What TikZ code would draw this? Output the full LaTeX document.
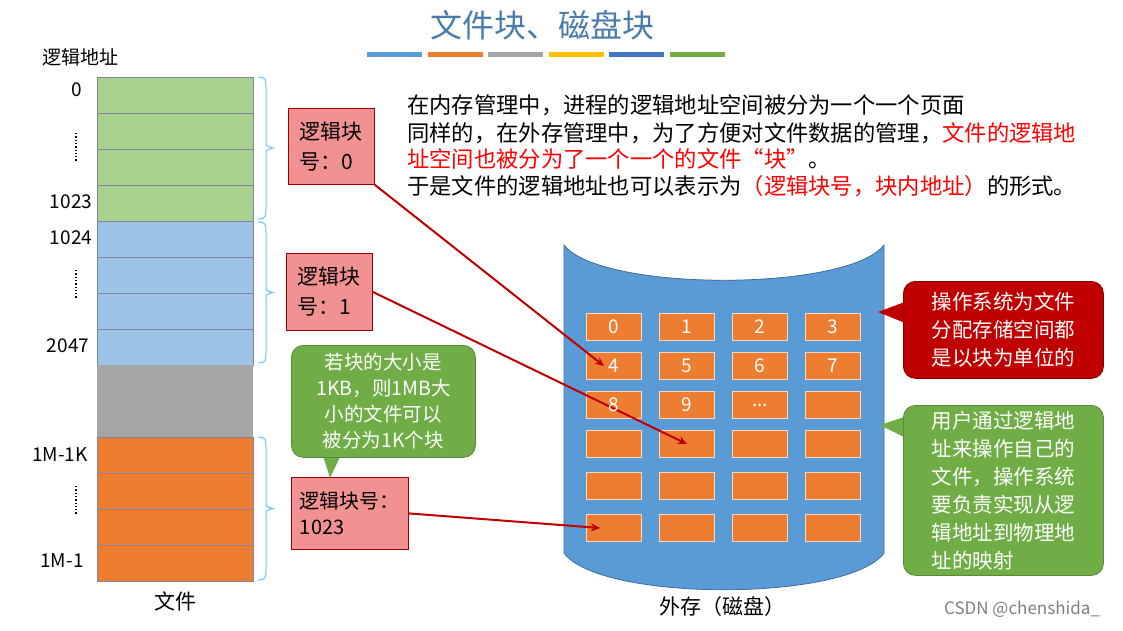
\documentclass[tikz,border=0pt]{standalone}
\usepackage{fontspec}
\usetikzlibrary{arrows.meta}
\setmainfont{Noto Sans CJK SC}
\newcommand{\mydots}{...}
\begin{document}
\begin{tikzpicture}[x=1pt,y=-1pt,
  cell/.style={draw=white!55!blue!30!gray,line width=1pt},
  lbl/.style={font=\fontsize{19}{22}\selectfont},
  lb/.style={draw=red!60!black,fill=red!40!white!95!black,line width=0.8pt,align=left,font=\fontsize{21}{30}\selectfont,inner sep=6pt},
  blk/.style={draw=white!70!og,fill=og,line width=0.8pt,minimum width=55pt,minimum height=27pt,inner sep=0},
  brace/.style={draw=blue!40!cyan!60!white,line width=1pt},
  arr/.style={draw=red!75!black,line width=2pt,-{Stealth[length=9pt,width=8pt]}},
  call/.style={rounded corners=12pt,line width=0.8pt,text=white,font=\fontsize{20.5}{28}\selectfont,align=left}]
\useasboundingbox (0,0) rectangle (1123,630);
\definecolor{gr}{HTML}{A9D18E}\definecolor{bl}{HTML}{9DC3E6}\definecolor{og}{HTML}{ED7D31}
\definecolor{cg}{HTML}{70AD47}\definecolor{cr}{HTML}{C00000}\definecolor{cb}{HTML}{5B9BD5}
% title
\node[font=\fontsize{32}{36}\selectfont,text=cb!80!black] (title) at (542,25) {文件块、磁盘块};
\foreach \c [count=\i] in {5B9BD5,ED7D31,A5A5A5,FFC000,4472C4,70AD47}{
  \definecolor{tmp}{HTML}{\c}
  \fill[tmp] ({367+(\i-1)*60.5},52) rectangle ({422+(\i-1)*60.5},57);}
\node[lbl] (la) at (80,57) {逻辑地址};
% column
\foreach \i in {0,...,3}{\path[cell,fill=gr] (97,{77+36*\i}) rectangle (253,{113+36*\i});}
\foreach \i in {0,...,3}{\path[cell,fill=bl] (97,{221+36*\i}) rectangle (253,{257+36*\i});}
\fill[gray!70] (97,365) rectangle (253,437);
\foreach \i in {0,...,3}{\path[cell,fill=og] (97,{437+36*\i}) rectangle (253,{473+36*\i});}
\node[lbl] (n0) at (77,90) {0};
\node[lbl] (n1) at (71,202) {1023};
\node[lbl] (n2) at (71,238) {1024};
\node[lbl] (n3) at (68,346) {2047};
\node[lbl] (n4) at (60,455) {1M-1K};
\node[lbl] (n5) at (62,561) {1M-1};
\foreach \y in {133,270,486}{\draw[dotted,line width=1.3pt] (76,\y) -- (76,{\y+28});}
\node[font=\fontsize{21}{24}\selectfont] (wj) at (175,601) {文件};
% braces
\foreach \a/\b in {77/219,222/363,437/580}{
 \draw[brace] (258,\a) .. controls (266,\a) and (266,\a+3) .. (266,{\a+10}) -- (266,{(\a+\b)/2-6}) .. controls (266,{(\a+\b)/2-2}) .. (273,{(\a+\b)/2}) .. controls (266,{(\a+\b)/2+2}) .. (266,{(\a+\b)/2+6}) -- (266,{\b-10}) .. controls (266,\b-3) and (266,\b) .. (258,\b);}
% boxes
\node[lb,minimum width=86pt,minimum height=76pt,anchor=north west] (b0) at (288,108) {逻辑块\\号：0};
\node[lb,minimum width=86pt,minimum height=77pt,anchor=north west] (b1) at (286,253) {逻辑块\\号：1};
\node[lb,minimum width=117pt,minimum height=72pt,anchor=north west,font=\fontsize{20}{26}\selectfont] (b2) at (291,477) {逻辑块号：\\1023};
% green callout 1
\fill[cg] (318,440) -- (330,478) -- (348,440) -- cycle;
\node[call,fill=cg,draw=cg!80!black,minimum width=184pt,minimum height=112pt,anchor=north west,align=center,font=\fontsize{19.5}{26}\selectfont] (c1) at (291,345) {若块的大小是\\1KB，则1MB大\\小的文件可以\\被分为1K个块};
% paragraph
\begin{scope}[every node/.style={anchor=west,font=\fontsize{22.3}{26}\selectfont,inner sep=0}]
\node (p1) at (407,105) {在内存管理中，进程的逻辑地址空间被分为一个一个页面};
\node (p2) at (407,133) {同样的，在外存管理中，为了方便对文件数据的管理，\textcolor{red}{文件的逻辑地}};
\node (p3) at (407,159) {\textcolor{red}{址空间也被分为了一个一个的文件“块”}。};
\node (p4) at (407,186) {于是文件的逻辑地址也可以表示为\textcolor{red}{（逻辑块号，块内地址）}的形式。};
\end{scope}
% cylinder
\draw[fill=cb,draw=cb!70!black,line width=0.8pt] (564,245) .. controls (600,292) and (848,292) .. (884,245) -- (884,553) .. controls (848,602) and (600,602) .. (564,553) -- cycle;
\foreach \r/\y in {0/327,1/366,2/405,3/444,4/486,5/528}{
 \foreach \c/\x in {0/614,1/687,2/760,3/833}{
  \node[blk] (k\r\c) at (\x,\y) {};}}
% arrows
\draw[arr] (b0.south east) -- ([xshift=-10pt]k10.center);
\draw[arr] (b1.east) -- (k31.center);
\draw[arr] (b2.east) -- ([xshift=-14pt]k50.center);
\foreach \r/\c/\t in {0/0/0,0/1/1,0/2/2,0/3/3,1/0/4,1/1/5,1/2/6,1/3/7,2/0/8,2/1/9,2/2/\mydots}{\node[font=\fontsize{19}{22}\selectfont,text=white] at (k\r\c) {\t};}
% red callout
\fill[cr] (910,300) -- (878,312) -- (910,325) -- cycle;
\node[call,fill=cr,draw=cr!70!black,minimum width=200pt,minimum height=97pt,anchor=north west,inner xsep=12pt] (c2) at (903,281) {操作系统为文件\\分配存储空间都\\是以块为单位的};
% green callout 2
\fill[cg] (910,415) -- (880,425) -- (910,440) -- cycle;
\node[call,fill=cg,draw=cg!80!black,minimum width=200pt,minimum height=170pt,anchor=north west,inner xsep=12pt] (c3) at (903,405) {用户通过逻辑地\\址来操作自己的\\文件，操作系统\\要负责实现从逻\\辑地址到物理地\\址的映射};
\node[font=\fontsize{21}{24}\selectfont] (wc) at (722,607) {外存（磁盘）};
\node[font=\fontsize{17}{20}\selectfont,text=gray] (csdn) at (1022,609) {CSDN @chenshida\_};
\end{tikzpicture}
\end{document}
